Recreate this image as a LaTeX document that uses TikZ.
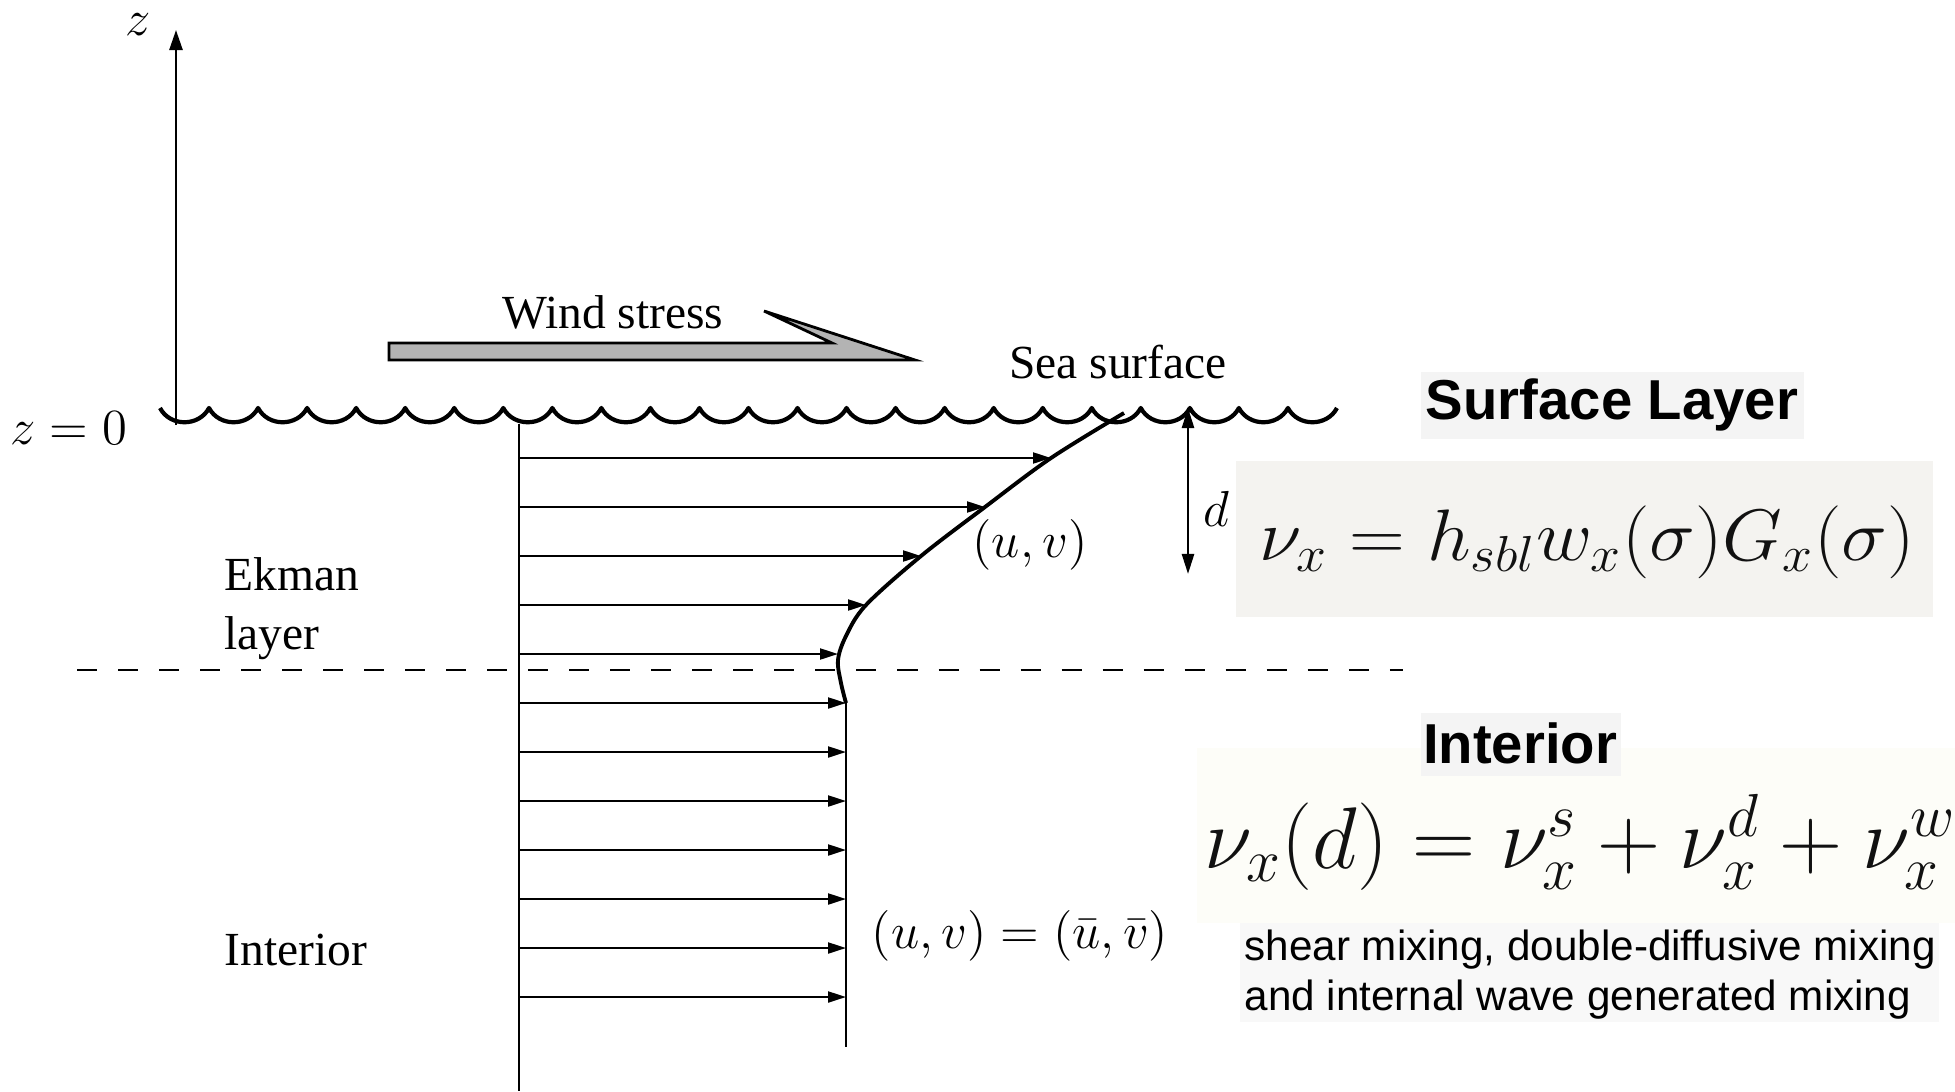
\documentclass[tikz,border=0pt]{standalone}
\usepackage[no-math]{fontspec}
\newfontfamily\tnr{Liberation Serif}
\newfontfamily\hel{Liberation Sans}
\usetikzlibrary{arrows.meta}
\definecolor{windgray}{HTML}{B3B3B3}
\definecolor{slbg}{HTML}{F4F4F4}
\definecolor{fonebg}{HTML}{F4F3F0}
\definecolor{ftwobg}{HTML}{FDFDF8}
\definecolor{txtbg}{HTML}{F8F8F8}
\definecolor{eqink}{HTML}{111111}
\newcommand\eqfontA{\fontsize{20.3}{24}\selectfont}
\newcommand\eqfontB{\fontsize{23.6}{28}\selectfont}
\begin{document}
\begin{tikzpicture}[x=0.01cm,y=-0.01cm,
  thinline/.style={line width=0.6pt},
  vel/.style={line width=0.6pt,-{Triangle[length=0.18cm,width=0.11cm]}},
  lbl/.style={font=\tnr\fontsize{13.5}{16}\selectfont,inner sep=0pt},
  mlbl/.style={font=\fontsize{13.3}{16}\selectfont,inner sep=0pt},
  hlbl/.style={font=\hel\bfseries\fontsize{16}{19}\selectfont,inner sep=0pt},
  eqA/.style={font=\eqfontA,inner sep=0pt,text=eqink},
  eqB/.style={font=\eqfontB,inner sep=0pt,text=eqink},
]
\useasboundingbox (0,0) rectangle (1955,1091);
% z axis
\coordinate (axbot) at (176,425);
\coordinate (axtop) at (176,30);
\draw[line width=0.7pt,-{Triangle[length=0.2cm,width=0.13cm]}] (axbot) -- (axtop);
\node[mlbl] (zlab) at (138,25) {$z$};
\node[mlbl] (zzero) at (69,428) {$z=0$};
% wind stress arrow
\draw[line width=0.8pt,fill=windgray,line join=miter] (389,343) -- (832,343) -- (764,311) -- (915,360) -- (389,360) -- cycle;
\node[lbl] (wind) at (613,312) {Wind stress};
\node[lbl] (sea) at (1118,362) {Sea surface};
% sea surface waves
\draw[line width=1.2pt,line join=round] (160,408)
  \foreach \i in {1,...,24} { .. controls +(10,19) and +(-10,19) .. ({160+\i*49.04},408) };
% vertical reference line
\coordinate (vtop) at (519,424);
\coordinate (vbot) at (519,1091);
\draw[thinline] (vtop) -- (vbot);
% velocity arrows
\foreach \y/\x [count=\k] in {458/1051,507/985,556/921,605/866,654/838,703/846,752/846,801/846,850/846,899/846,948/846,997/846}{
  \coordinate (s\k) at (519,\y);
  \coordinate (e\k) at (\x,\y);
  \draw[vel] (s\k) -- (e\k);
}
% velocity profile
\draw[line width=1.1pt] plot[smooth,tension=0.55] coordinates {(1124,413) (1051,458) (985,507) (921,556) (866,605) (846,636) (838,660) (841,683) (846,703)};
\coordinate (pbot) at (846,1047);
\draw[thinline] (e6) -- (pbot);
% Ekman layer bottom
\coordinate (dl) at (77,670);
\coordinate (dr) at (1403,670);
\draw[line width=0.7pt,dash pattern=on 0.2cm off 0.21cm] (dl) -- (dr);
% depth d
\coordinate (dtop) at (1188,408);
\coordinate (dbot) at (1188,574);
\draw[line width=0.7pt,{Triangle[length=0.2cm,width=0.12cm]}-{Triangle[length=0.2cm,width=0.12cm]}] (dtop) -- (dbot);
\node[mlbl] (dlab) at (1216,509) {$d$};
\node[mlbl] (uv) at (1030,545) {$(u,v)$};
\node[mlbl] (uvbar) at (1020,936) {$(u,v)=(\bar u,\bar v)$};
\node[lbl,anchor=west] (ekman) at (224,574) {Ekman};
\node[lbl,anchor=west] (layer) at (224,638) {layer};
\node[lbl,anchor=west] (interior) at (224,950) {Interior};
% right panel
\fill[slbg] (1421,372) rectangle (1804,439);
\node[hlbl] (sl) at (1612,405) {Surface Layer};
\fill[fonebg] (1236,461) rectangle (1933,617);
\node[eqA] (fa) at (1587,542) {\scalebox{1.06}[1]{$\nu_x = h_{sbl} w_x(\sigma) G_x(\sigma)$}};
\fill[ftwobg] (1197,748) rectangle (1955,923);
\fill[slbg] (1421,713) rectangle (1621,776);
\node[hlbl] (int) at (1520,743) {Interior};
\node[eqB] (fb) at (1580,842) {$\nu_x(d) = \nu_x^s + \nu_x^d + \nu_x^w$};
\fill[txtbg] (1240,923) rectangle (1939,1022);
\node[inner sep=0pt,anchor=west,align=left,font=\hel\fontsize{12}{14.2}\selectfont] (mix) at (1244,975) {shear mixing, double-diffusive mixing\\and internal wave generated mixing};
\end{tikzpicture}
\end{document}
